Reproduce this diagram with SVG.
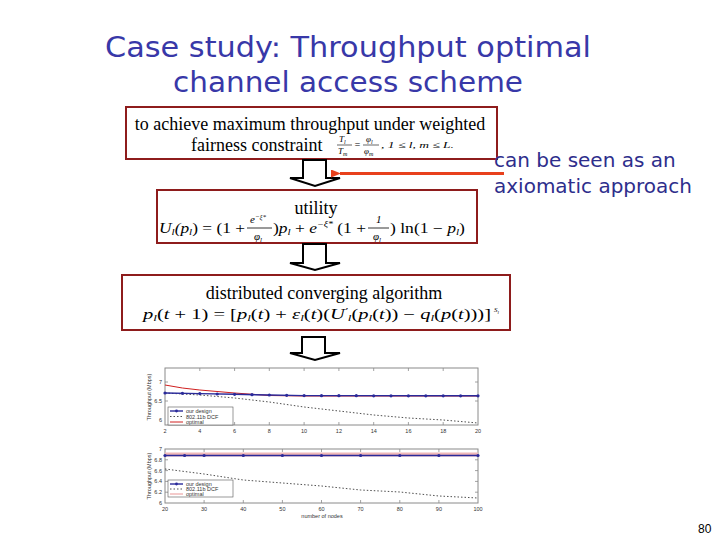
<svg xmlns="http://www.w3.org/2000/svg" width="720" height="540" viewBox="0 0 720 540">
<style>
.title{font-family:"DejaVu Sans","Liberation Sans",sans-serif;font-size:28px;fill:#3838a8;text-anchor:middle}
.side{font-family:"Comic Sans MS","DejaVu Sans",sans-serif;font-size:20px;fill:#2e2e8c}
.box{fill:#fff;stroke:#8e1c1c;stroke-width:2}
.lbl{font-family:"Liberation Serif","Times New Roman",serif;font-size:18px;fill:#000}
.m{font-family:"Liberation Serif","Times New Roman",serif;font-style:italic;fill:#000}
.blk{fill:#fff;stroke:#000;stroke-width:2;stroke-linejoin:miter}
.frame{fill:#fff;stroke:#8a8a8a;stroke-width:1}
.tick{stroke:#8a8a8a;stroke-width:0.8}
.tl{font-family:"Liberation Sans",Arial,sans-serif;font-size:5.5px;fill:#333}
.blue{fill:none;stroke:#2a2a9a;stroke-width:1.4}
.red{fill:none;stroke:#d02020;stroke-width:1}
.dot{fill:none;stroke:#222;stroke-width:0.8;stroke-dasharray:1.5 2}
.mk{fill:#2a2a9a}
.pg{font-family:"Liberation Sans",Arial,sans-serif;font-size:12px;fill:#000}
</style>
<defs>
<marker id="ah" markerWidth="10" markerHeight="8" refX="1" refY="4" orient="auto" markerUnits="userSpaceOnUse">
<path d="M10,0 L0,4 L10,8 Z" fill="#e8401c"/>
</marker>
</defs>

<g id="title">
<text class="title" x="348" y="57" textLength="486" lengthAdjust="spacingAndGlyphs">Case study: Throughput optimal</text>
<text class="title" x="348" y="92" textLength="350" lengthAdjust="spacingAndGlyphs">channel access scheme</text>
</g>

<g id="box-objective">
<rect class="box" x="126" y="107" width="371" height="52"/>
<text class="lbl" x="310" y="130" text-anchor="middle">to achieve maximum throughput under weighted</text>
<text class="lbl" x="191" y="151">fairness constraint</text>
<text class="m" font-size="9" x="339" y="142">T<tspan font-size="6" dy="1.5">l</tspan></text>
<line x1="337" y1="145" x2="352" y2="145" stroke="#000" stroke-width="0.6"/>
<text class="m" font-size="9" x="338" y="154">T<tspan font-size="6" dy="1.5">m</tspan></text>
<text class="m" font-size="10" x="354" y="148" font-style="normal">=</text>
<text class="m" font-size="9" x="366" y="142">φ<tspan font-size="6" dy="1.5">l</tspan></text>
<line x1="363" y1="145" x2="379" y2="145" stroke="#000" stroke-width="0.6"/>
<text class="m" font-size="9" x="364" y="154">φ<tspan font-size="6" dy="1.5">m</tspan></text>
<text class="m" font-size="9" x="381" y="148" textLength="73" lengthAdjust="spacingAndGlyphs">, 1 ≤ l, m ≤ L.</text>
</g>

<g id="box-utility">
<rect class="box" x="157" y="190" width="320" height="53"/>
<text class="lbl" x="316" y="214" text-anchor="middle">utility</text>
<text class="m" font-size="14" x="159" y="233" textLength="86" lengthAdjust="spacingAndGlyphs">U<tspan font-size="9" dy="2">l</tspan><tspan dy="-2">(p</tspan><tspan font-size="9" dy="2">l</tspan><tspan dy="-2" font-style="normal">) = (1 + </tspan></text>
<text class="m" font-size="11" x="250" y="223">e<tspan font-size="7" dy="-4">−ξ*</tspan></text>
<line x1="247" y1="228" x2="272" y2="228" stroke="#000" stroke-width="0.8"/>
<text class="m" font-size="11" x="254" y="240">φ<tspan font-size="7" dy="2">l</tspan></text>
<text class="m" font-size="14" x="273" y="233" textLength="93" lengthAdjust="spacingAndGlyphs"><tspan font-style="normal">)</tspan>p<tspan font-size="9" dy="2">l</tspan><tspan dy="-2" font-style="normal"> + </tspan>e<tspan font-size="8" dy="-6">−ξ*</tspan><tspan dy="6" font-style="normal"> (1 + </tspan></text>
<text class="m" font-size="11" x="376" y="223" font-style="normal">1</text>
<line x1="368" y1="228" x2="389" y2="228" stroke="#000" stroke-width="0.8"/>
<text class="m" font-size="11" x="373" y="240">φ<tspan font-size="7" dy="2">l</tspan></text>
<text class="m" font-size="14" x="390" y="233" textLength="75" lengthAdjust="spacingAndGlyphs"><tspan font-style="normal">) ln(1 − </tspan>p<tspan font-size="9" dy="2">l</tspan><tspan dy="-2" font-style="normal">)</tspan></text>
</g>

<g id="box-algorithm">
<rect class="box" x="122" y="275" width="388" height="55"/>
<text class="lbl" x="324" y="299" text-anchor="middle">distributed converging algorithm</text>
<text class="m" font-size="14" x="143" y="319" textLength="348" lengthAdjust="spacingAndGlyphs">p<tspan font-size="9" dy="2">l</tspan><tspan dy="-2" font-style="normal">(</tspan>t<tspan font-style="normal"> + 1) = [</tspan>p<tspan font-size="9" dy="2">l</tspan><tspan dy="-2" font-style="normal">(</tspan>t<tspan font-style="normal">) + </tspan>ε<tspan font-size="9" dy="2">l</tspan><tspan dy="-2" font-style="normal">(</tspan>t<tspan font-style="normal">)(</tspan>U<tspan font-size="9" dy="-5">′</tspan><tspan font-size="9" dy="7">l</tspan><tspan dy="-2" font-style="normal">(</tspan>p<tspan font-size="9" dy="2">l</tspan><tspan dy="-2" font-style="normal">(</tspan>t<tspan font-style="normal">)) − </tspan>q<tspan font-size="9" dy="2">l</tspan><tspan dy="-2" font-style="normal">(</tspan>p<tspan font-style="normal">(</tspan>t<tspan font-style="normal">)))]</tspan></text>
<text class="m" font-size="7" x="494" y="312">S<tspan font-size="5" dy="1.5">l</tspan></text>
</g>

<g id="connectors">
<polygon class="blk" points="303,160 303,178 290,178 315,186 340,178 326,178 326,160"/>
<polygon class="blk" points="303,244 303,263 290,263 315,270 340,263 326,263 326,244"/>
<polygon class="blk" points="302,337 302,353 290,353 315,360 340,353 325,353 325,337"/>
<line x1="504" y1="173.5" x2="340" y2="173.5" stroke="#e8401c" stroke-width="3" marker-end="url(#ah)"/>
</g>

<g id="note">
<text class="side" x="494" y="167">can be seen as an</text>
<text class="side" x="494" y="193">axiomatic approach</text>
</g>

<g id="plot-top">
<rect class="frame" x="165" y="368" width="313" height="57"/>
<g class="tick">
<line x1="199.8" y1="425" x2="199.8" y2="422"/><line x1="234.6" y1="425" x2="234.6" y2="422"/><line x1="269.3" y1="425" x2="269.3" y2="422"/><line x1="304.1" y1="425" x2="304.1" y2="422"/><line x1="338.9" y1="425" x2="338.9" y2="422"/><line x1="373.7" y1="425" x2="373.7" y2="422"/><line x1="408.4" y1="425" x2="408.4" y2="422"/><line x1="443.2" y1="425" x2="443.2" y2="422"/>
<line x1="199.8" y1="368" x2="199.8" y2="371"/><line x1="234.6" y1="368" x2="234.6" y2="371"/><line x1="269.3" y1="368" x2="269.3" y2="371"/><line x1="304.1" y1="368" x2="304.1" y2="371"/><line x1="338.9" y1="368" x2="338.9" y2="371"/><line x1="373.7" y1="368" x2="373.7" y2="371"/><line x1="408.4" y1="368" x2="408.4" y2="371"/><line x1="443.2" y1="368" x2="443.2" y2="371"/>
<line x1="165" y1="382" x2="168" y2="382"/><line x1="165" y1="401" x2="168" y2="401"/><line x1="478" y1="382" x2="475" y2="382"/><line x1="478" y1="401" x2="475" y2="401"/>
</g>
<text class="tl" x="162" y="384" text-anchor="end">7</text>
<text class="tl" x="162" y="403" text-anchor="end">6.5</text>
<text class="tl" x="162" y="422" text-anchor="end">6</text>
<g class="tl" text-anchor="middle">
<text x="165" y="433">2</text><text x="199.8" y="433">4</text><text x="234.6" y="433">6</text><text x="269.3" y="433">8</text><text x="304.1" y="433">10</text><text x="338.9" y="433">12</text><text x="373.7" y="433">14</text><text x="408.4" y="433">16</text><text x="443.2" y="433">18</text><text x="478" y="433">20</text>
</g>
<text class="tl" transform="translate(151,397) rotate(-90)" text-anchor="middle">Throughput (Mbps)</text>
<polyline class="dot" points="165,393 199.8,395 234.6,398 269.3,402 304.1,407 338.9,411 373.7,415 408.4,418 443.2,420 478,423"/>
<polyline class="red" points="165,385 182.4,388 199.8,390 234.6,393 269.3,395.5 304.1,396 478,396"/>
<polyline class="blue" points="165,393 199.8,393.6 234.6,394.3 269.3,395 304.1,395.6 478,395.8"/>
<g class="mk">
<circle cx="165" cy="393" r="1.6"/><circle cx="182.4" cy="393.3" r="1.6"/><circle cx="199.8" cy="393.6" r="1.6"/><circle cx="217.2" cy="394" r="1.6"/><circle cx="234.6" cy="394.3" r="1.6"/><circle cx="252" cy="394.7" r="1.6"/><circle cx="269.3" cy="395" r="1.6"/><circle cx="286.7" cy="395.3" r="1.6"/><circle cx="304.1" cy="395.6" r="1.6"/><circle cx="321.5" cy="395.7" r="1.6"/><circle cx="338.9" cy="395.7" r="1.6"/><circle cx="356.3" cy="395.7" r="1.6"/><circle cx="373.7" cy="395.8" r="1.6"/><circle cx="391" cy="395.8" r="1.6"/><circle cx="408.4" cy="395.8" r="1.6"/><circle cx="425.8" cy="395.8" r="1.6"/><circle cx="443.2" cy="395.8" r="1.6"/><circle cx="460.6" cy="395.8" r="1.6"/><circle cx="478" cy="395.8" r="1.6"/>
</g>
<rect x="168" y="407" width="65" height="18" fill="#fff" stroke="#555" stroke-width="0.6"/>
<line x1="170" y1="411" x2="183" y2="411" class="blue"/><circle cx="176.5" cy="411" r="1.4" class="mk"/>
<line x1="170" y1="416.5" x2="183" y2="416.5" class="dot"/>
<line x1="170" y1="422" x2="183" y2="422" class="red"/>
<text class="tl" x="186" y="413">our design</text>
<text class="tl" x="186" y="418.5">802.11b DCF</text>
<text class="tl" x="186" y="424">optimal</text>
</g>

<g id="plot-bottom">
<rect class="frame" x="165" y="449" width="313" height="54"/>
<g class="tick">
<line x1="204.1" y1="503" x2="204.1" y2="500"/><line x1="243.3" y1="503" x2="243.3" y2="500"/><line x1="282.4" y1="503" x2="282.4" y2="500"/><line x1="321.5" y1="503" x2="321.5" y2="500"/><line x1="360.6" y1="503" x2="360.6" y2="500"/><line x1="399.8" y1="503" x2="399.8" y2="500"/><line x1="438.9" y1="503" x2="438.9" y2="500"/>
<line x1="204.1" y1="449" x2="204.1" y2="452"/><line x1="243.3" y1="449" x2="243.3" y2="452"/><line x1="282.4" y1="449" x2="282.4" y2="452"/><line x1="321.5" y1="449" x2="321.5" y2="452"/><line x1="360.6" y1="449" x2="360.6" y2="452"/><line x1="399.8" y1="449" x2="399.8" y2="452"/><line x1="438.9" y1="449" x2="438.9" y2="452"/>
<line x1="165" y1="459.8" x2="168" y2="459.8"/><line x1="165" y1="470.6" x2="168" y2="470.6"/><line x1="165" y1="481.4" x2="168" y2="481.4"/><line x1="165" y1="492.2" x2="168" y2="492.2"/>
<line x1="478" y1="459.8" x2="475" y2="459.8"/><line x1="478" y1="470.6" x2="475" y2="470.6"/><line x1="478" y1="481.4" x2="475" y2="481.4"/><line x1="478" y1="492.2" x2="475" y2="492.2"/>
</g>
<g class="tl" text-anchor="end">
<text x="162" y="451">7</text><text x="162" y="461.8">6.8</text><text x="162" y="472.6">6.6</text><text x="162" y="483.4">6.4</text><text x="162" y="494.2">6.2</text><text x="162" y="505">6</text>
</g>
<g class="tl" text-anchor="middle">
<text x="165" y="511">20</text><text x="204.1" y="511">30</text><text x="243.3" y="511">40</text><text x="282.4" y="511">50</text><text x="321.5" y="511">60</text><text x="360.6" y="511">70</text><text x="399.8" y="511">80</text><text x="438.9" y="511">90</text><text x="478" y="511">100</text>
</g>
<text class="tl" x="322" y="518" text-anchor="middle">number of nodes</text>
<text class="tl" transform="translate(151,476) rotate(-90)" text-anchor="middle">Throughput (Mbps)</text>
<line x1="165" y1="454.5" x2="478" y2="454.5" stroke="#f0b8b8" stroke-width="4"/>
<polyline class="dot" points="165,469 204.1,474 243.3,480 282.4,483 321.5,486 360.6,490 399.8,492 438.9,496 478,498"/>
<line x1="165" y1="455.5" x2="478" y2="455.5" class="blue"/>
<g class="mk">
<circle cx="165" cy="455.5" r="1.6"/><circle cx="184.6" cy="455.5" r="1.6"/><circle cx="204.1" cy="455.5" r="1.6"/><circle cx="243.3" cy="455.5" r="1.6"/><circle cx="282.4" cy="455.5" r="1.6"/><circle cx="321.5" cy="455.5" r="1.6"/><circle cx="360.6" cy="455.5" r="1.6"/><circle cx="399.8" cy="455.5" r="1.6"/><circle cx="438.9" cy="455.5" r="1.6"/><circle cx="478" cy="455.5" r="1.6"/>
</g>
<rect x="168" y="480" width="65" height="17" fill="#fff" stroke="#555" stroke-width="0.6"/>
<line x1="170" y1="484" x2="183" y2="484" class="blue"/><circle cx="176.5" cy="484" r="1.4" class="mk"/>
<line x1="170" y1="489" x2="183" y2="489" class="dot"/>
<line x1="170" y1="494" x2="183" y2="494" stroke="#f0b8b8" stroke-width="1.5"/>
<text class="tl" x="186" y="486">our design</text>
<text class="tl" x="186" y="491">802.11b DCF</text>
<text class="tl" x="186" y="496">optimal</text>
</g>

<g id="page-number">
<text class="pg" x="698" y="533">80</text>
</g>
</svg>
